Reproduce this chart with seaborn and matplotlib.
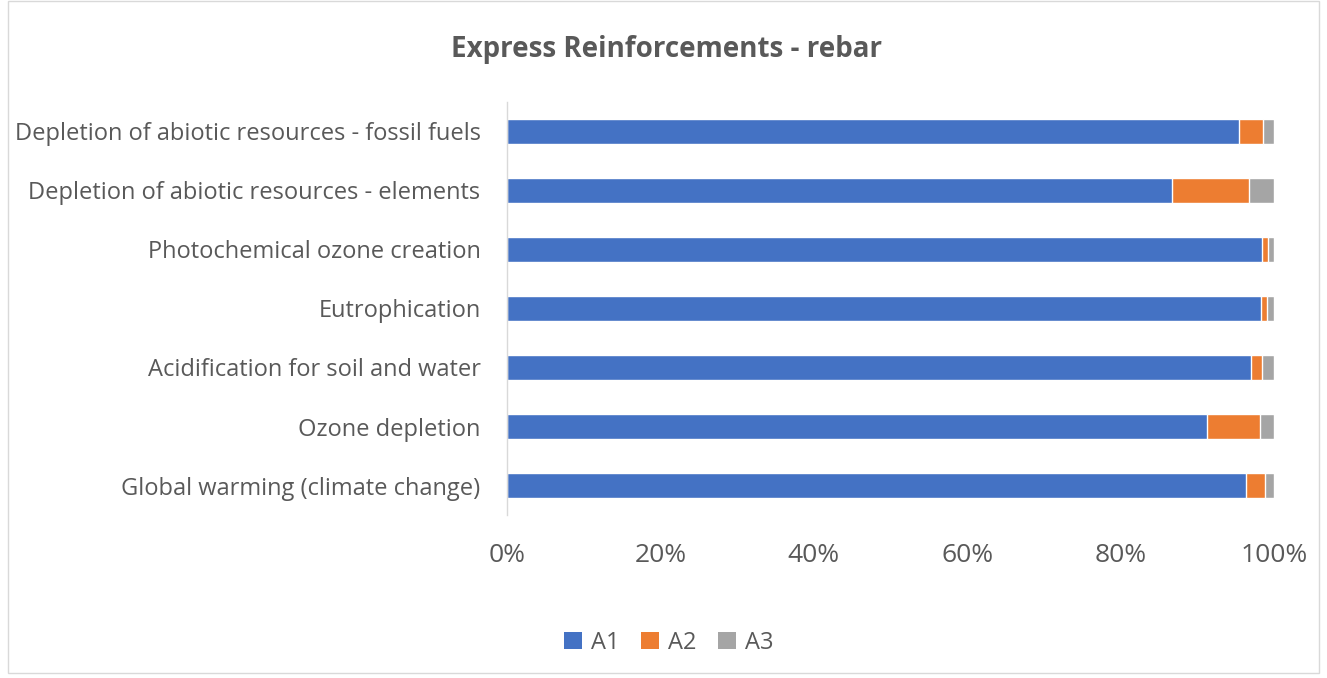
import matplotlib
matplotlib.use("Agg")
import matplotlib.pyplot as plt
import seaborn as sns
import numpy as np
import pandas as pd
from matplotlib.patches import Rectangle, Patch
from matplotlib.ticker import PercentFormatter

categories = [
    "Depletion of abiotic resources - fossil fuels",
    "Depletion of abiotic resources - elements",
    "Photochemical ozone creation",
    "Eutrophication",
    "Acidification for soil and water",
    "Ozone depletion",
    "Global warming (climate change)",
]
a1 = [95.5, 86.7, 98.4, 98.3, 97.0, 91.3, 96.3]
a2 = [3.1, 10.0, 0.8, 0.8, 1.4, 6.9, 2.5]
a3 = [1.4, 3.3, 0.8, 0.9, 1.6, 1.8, 1.2]
series = ["A1", "A2", "A3"]
colors = ["#4472C4", "#ED7D31", "#A5A5A5"]

sns.set_theme(style="white")
plt.rcParams["font.family"] = ["Open Sans", "DejaVu Sans"]
txt = "#595959"

df = pd.DataFrame({"cat": categories, "A1": a1, "A2": a2, "A3": a3})
df["c1"] = df["A1"]
df["c2"] = df["A1"] + df["A2"]
df["c3"] = df["A1"] + df["A2"] + df["A3"]

fig = plt.figure(figsize=(13.27, 6.78), dpi=100)
ax = fig.add_axes([0.382, 0.2404, 0.578, 0.6092])

# stacked bars drawn back to front from cumulative totals
for col, c in zip(["c3", "c2", "c1"], colors[::-1]):
    sns.barplot(data=df, x=col, y="cat", orient="h", color=c, width=0.41,
                saturation=1, ax=ax, order=categories)

ax.set_xlim(0, 100)
ax.set_ylim(6.5, -0.5)
ax.set_xticks(np.arange(0, 101, 20))
ax.xaxis.set_major_formatter(PercentFormatter(decimals=0))
ax.set_xlabel("")
ax.set_ylabel("")
for s in ["top", "right", "bottom"]:
    ax.spines[s].set_visible(False)
ax.spines["left"].set_color("#D9D9D9")
ax.spines["left"].set_linewidth(1)
ax.tick_params(axis="y", length=0, labelsize=17, colors=txt, pad=19)
ax.tick_params(axis="x", length=0, labelsize=19, colors=txt, pad=20)

fig.text(0.502, 0.927, "Express Reinforcements - rebar", ha="center", va="center",
         fontsize=20, fontweight="bold", color=txt)

handles = [Patch(facecolor=c, edgecolor="none") for c in colors]
fig.legend(handles, series, loc="center", bbox_to_anchor=(0.504, 0.052), ncol=3,
           frameon=False, fontsize=17, labelcolor=txt, handlelength=0.75,
           handleheight=0.75, handletextpad=0.4, columnspacing=0.9)

fig.patches.append(Rectangle((0.006, 0.008), 0.988, 0.99, transform=fig.transFigure,
                             fill=False, edgecolor="#D9D9D9", linewidth=1))

fig.savefig("out.png", dpi=100)
